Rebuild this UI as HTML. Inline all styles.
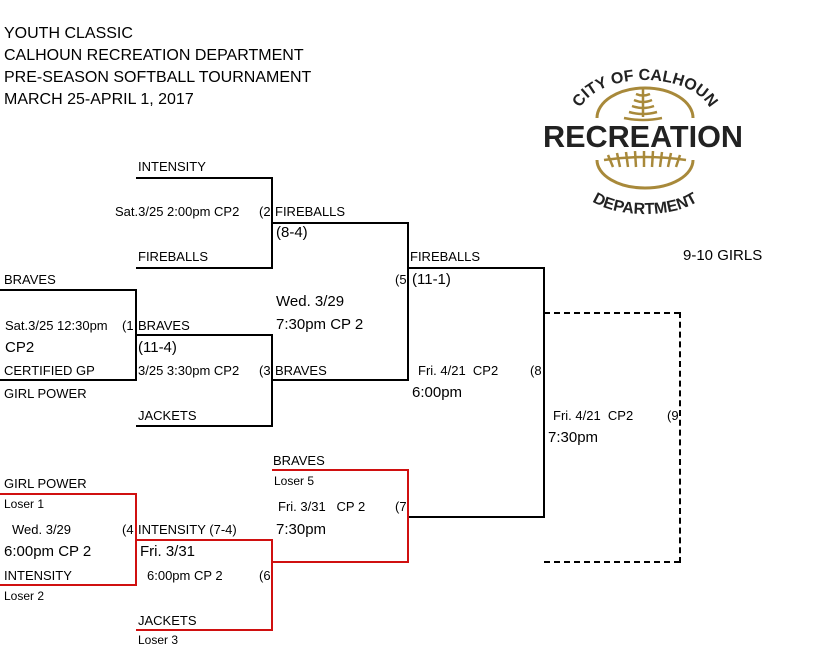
<!DOCTYPE html>
<html><head><meta charset="utf-8"><style>
body{margin:0;width:817px;height:654px;background:#fff;position:relative;overflow:hidden;font-family:"Liberation Sans",Arial,sans-serif;color:#000}
.t{position:absolute;font-size:13px;line-height:16px;white-space:pre}
.b{position:absolute;font-size:15px;line-height:18px;white-space:pre}
.h{position:absolute;font-size:16px;line-height:20px;white-space:pre}
.l{position:absolute;background:#000}
.r{position:absolute;background:#d01010}
</style></head><body>
<div class="h" style="left:4px;top:24px">YOUTH CLASSIC</div>
<div class="h" style="left:4px;top:46px">CALHOUN RECREATION DEPARTMENT</div>
<div class="h" style="left:4px;top:68px">PRE-SEASON SOFTBALL TOURNAMENT</div>
<div class="h" style="left:4px;top:90px">MARCH 25-APRIL 1, 2017</div>

<div class="l" style="left:136px;top:177px;width:137px;height:2px"></div>
<div class="l" style="left:271px;top:177px;width:2px;height:92px"></div>
<div class="l" style="left:136px;top:267px;width:137px;height:2px"></div>
<div class="l" style="left:272px;top:222px;width:137px;height:2px"></div>
<div class="l" style="left:407px;top:222px;width:2px;height:159px"></div>
<div class="l" style="left:272px;top:379px;width:137px;height:2px"></div>
<div class="l" style="left:408px;top:267px;width:137px;height:2px"></div>
<div class="l" style="left:543px;top:267px;width:2px;height:251px"></div>
<div class="l" style="left:408px;top:516px;width:137px;height:2px"></div>
<div class="l" style="left:0;top:289px;width:137px;height:2px"></div>
<div class="l" style="left:135px;top:289px;width:2px;height:92px"></div>
<div class="l" style="left:0;top:379px;width:137px;height:2px"></div>
<div class="l" style="left:136px;top:334px;width:137px;height:2px"></div>
<div class="l" style="left:271px;top:334px;width:2px;height:93px"></div>
<div class="l" style="left:136px;top:425px;width:137px;height:2px"></div>
<div style="position:absolute;left:544px;top:312px;width:136px;height:0;border-top:2px dashed #000"></div>
<div style="position:absolute;left:679px;top:312px;width:0;height:251px;border-left:2px dashed #000"></div>
<div style="position:absolute;left:544px;top:561px;width:136px;height:0;border-top:2px dashed #000"></div>
<div class="r" style="left:0;top:493px;width:137px;height:2px"></div>
<div class="r" style="left:135px;top:493px;width:2px;height:93px"></div>
<div class="r" style="left:0;top:584px;width:137px;height:2px"></div>
<div class="r" style="left:136px;top:539px;width:137px;height:2px"></div>
<div class="r" style="left:271px;top:539px;width:2px;height:92px"></div>
<div class="r" style="left:136px;top:629px;width:137px;height:2px"></div>
<div class="r" style="left:272px;top:469px;width:137px;height:2px"></div>
<div class="r" style="left:407px;top:469px;width:2px;height:94px"></div>
<div class="r" style="left:272px;top:561px;width:137px;height:2px"></div>

<div class="t" style="left:138px;top:159px">INTENSITY</div>
<div class="t" style="left:115px;top:204px">Sat.3/25 2:00pm CP2</div>
<div class="t" style="left:259px;top:204px">(2</div>
<div class="t" style="left:275px;top:204px">FIREBALLS</div>
<div class="b" style="left:276px;top:224px">(8-4)</div>
<div class="t" style="left:138px;top:249px">FIREBALLS</div>
<div class="t" style="left:410px;top:249px">FIREBALLS</div>
<div class="t" style="left:395px;top:272px">(5</div>
<div class="b" style="left:412px;top:271px">(11-1)</div>
<div class="t" style="left:4px;top:272px">BRAVES</div>
<div class="b" style="left:276px;top:293px">Wed. 3/29</div>
<div class="b" style="left:276px;top:316px">7:30pm CP 2</div>
<div class="t" style="left:5px;top:318px">Sat.3/25 12:30pm</div>
<div class="t" style="left:122px;top:318px">(1</div>
<div class="t" style="left:138px;top:318px">BRAVES</div>
<div class="b" style="left:5px;top:339px">CP2</div>
<div class="b" style="left:138px;top:339px">(11-4)</div>
<div class="t" style="left:4px;top:363px">CERTIFIED GP</div>
<div class="t" style="left:138px;top:363px">3/25 3:30pm CP2</div>
<div class="t" style="left:259px;top:363px">(3</div>
<div class="t" style="left:275px;top:363px">BRAVES</div>
<div class="t" style="left:418px;top:363px">Fri. 4/21  CP2</div>
<div class="t" style="left:530px;top:363px">(8</div>
<div class="t" style="left:4px;top:386px">GIRL POWER</div>
<div class="b" style="left:412px;top:384px">6:00pm</div>
<div class="t" style="left:553px;top:408px">Fri. 4/21  CP2</div>
<div class="t" style="left:667px;top:408px">(9</div>
<div class="t" style="left:138px;top:408px">JACKETS</div>
<div class="b" style="left:548px;top:429px">7:30pm</div>
<div class="b" style="left:683px;top:247px">9-10 GIRLS</div>
<div class="t" style="left:273px;top:453px">BRAVES</div>
<div class="t" style="left:274px;top:473px;font-size:12px">Loser 5</div>
<div class="t" style="left:4px;top:476px">GIRL POWER</div>
<div class="t" style="left:4px;top:496px;font-size:12px">Loser 1</div>
<div class="t" style="left:278px;top:499px">Fri. 3/31   CP 2</div>
<div class="t" style="left:395px;top:499px">(7</div>
<div class="t" style="left:12px;top:522px">Wed. 3/29</div>
<div class="t" style="left:122px;top:522px">(4</div>
<div class="t" style="left:138px;top:522px">INTENSITY (7-4)</div>
<div class="b" style="left:276px;top:521px">7:30pm</div>
<div class="b" style="left:4px;top:543px">6:00pm CP 2</div>
<div class="b" style="left:140px;top:543px">Fri. 3/31</div>
<div class="t" style="left:4px;top:568px">INTENSITY</div>
<div class="t" style="left:147px;top:568px">6:00pm CP 2</div>
<div class="t" style="left:259px;top:568px">(6</div>
<div class="t" style="left:4px;top:588px;font-size:12px">Loser 2</div>
<div class="t" style="left:138px;top:613px">JACKETS</div>
<div class="t" style="left:138px;top:632px;font-size:12px">Loser 3</div>

<svg style="position:absolute;left:530px;top:60px" width="230" height="160" viewBox="0 0 230 160">
<defs>
<path id="ta" d="M48,58 A67,38 0 0 1 182,58"/>
<path id="ba" d="M52,126 A63,28 0 0 0 178,126"/>
</defs>
<path d="M67,58 A48,30 0 0 1 163,58" fill="none" stroke="#a8893a" stroke-width="3"/>
<path d="M67,100 A48,28 0 0 0 163,100" fill="none" stroke="#a8893a" stroke-width="3"/>
<g stroke="#a8893a" stroke-width="2.5" fill="none">
<line x1="113" y1="28" x2="113" y2="57"/>
<path d="M106,34 Q113,37 120,34"/><path d="M104,40 Q113,44 122,40"/><path d="M102,46 Q113,50 124,46"/><path d="M99,52 Q113,56 127,52"/><path d="M94,58 Q113,62 132,58"/>
<path d="M74,100 Q115,94 156,100"/>
<line x1="78" y1="95" x2="83" y2="107"/><line x1="87" y1="93" x2="90" y2="107"/><line x1="96" y1="92" x2="98" y2="107"/><line x1="105" y1="91" x2="106" y2="107"/><line x1="114" y1="90" x2="114" y2="107"/><line x1="123" y1="91" x2="122" y2="107"/><line x1="132" y1="92" x2="130" y2="107"/><line x1="141" y1="93" x2="138" y2="107"/><line x1="150" y1="95" x2="146" y2="107"/>
</g>
<text font-family="Liberation Sans" font-weight="bold" font-size="16" fill="#222"><textPath href="#ta" startOffset="50%" text-anchor="middle">CITY OF CALHOUN</textPath></text>
<rect x="10" y="63" width="210" height="28" fill="#fff"/>
<text x="113" y="87" text-anchor="middle" font-family="Liberation Sans" font-weight="bold" font-size="31" fill="#222" textLength="200" lengthAdjust="spacingAndGlyphs">RECREATION</text>
<text font-family="Liberation Sans" font-weight="bold" font-size="16" fill="#222"><textPath href="#ba" startOffset="50%" text-anchor="middle">DEPARTMENT</textPath></text>
</svg>
</body></html>
